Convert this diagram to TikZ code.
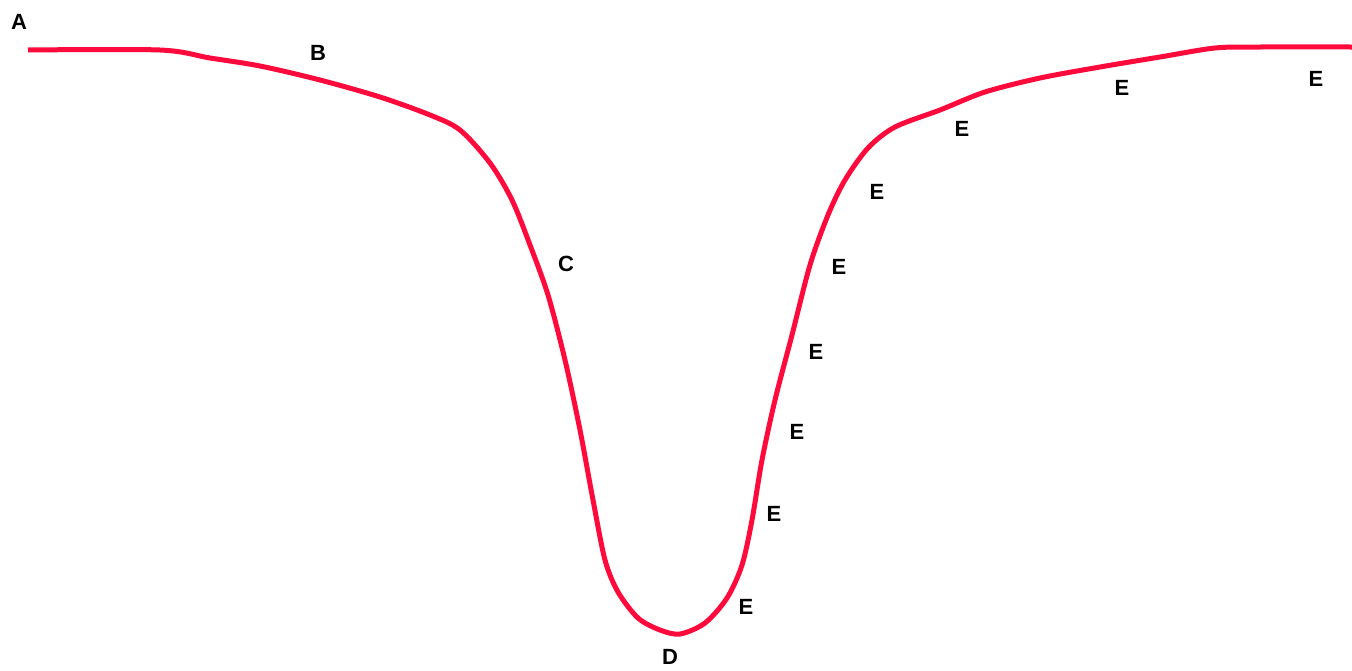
\documentclass[tikz,border=0pt]{standalone}
\usepackage{fontspec}
\setmainfont{Liberation Sans}
\definecolor{curvered}{RGB}{255,10,60}
\begin{document}
\begin{tikzpicture}[x=1pt,y=-1pt,
  lbl/.style={font=\bfseries\fontsize{22}{22}\selectfont,inner sep=0pt,anchor=center},
  curve/.style={draw=curvered,line width=5pt,line join=round}]
\useasboundingbox (0,0) rectangle (1352,670);
\draw[curve] plot[smooth,tension=0.5] coordinates {
 (28,50) (160,50) (210,58) (260,66) (320,80) (380,97) (430,115) (460,130)
 (490,163) (512,200) (530,245) (548,295) (565,360) (580,430) (593,500)
 (605,560) (618,592) (638,618) (660,630) (680,634) (705,623) (727,598)
 (742,565) (752,520) (762,460) (775,400) (792,335) (810,265) (828,215)
 (845,180) (868,148) (895,127) (940,110) (985,92) (1040,78) (1100,67)
 (1160,57) (1215,48) (1260,47) (1352,47)};
\node[lbl] (a) at (19,22) {A};
\node[lbl] (b) at (318,53) {B};
\node[lbl] (c) at (566,264) {C};
\node[lbl] (d) at (670,657) {D};
\node[lbl] (e1) at (746,607) {E};
\node[lbl] (e2) at (774,514) {E};
\node[lbl] (e3) at (797,432) {E};
\node[lbl] (e4) at (816,352) {E};
\node[lbl] (e5) at (839,267) {E};
\node[lbl] (e6) at (877,192) {E};
\node[lbl] (e7) at (962,129) {E};
\node[lbl] (e8) at (1122,88) {E};
\node[lbl] (e9) at (1316,79) {E};
\end{tikzpicture}
\end{document}
